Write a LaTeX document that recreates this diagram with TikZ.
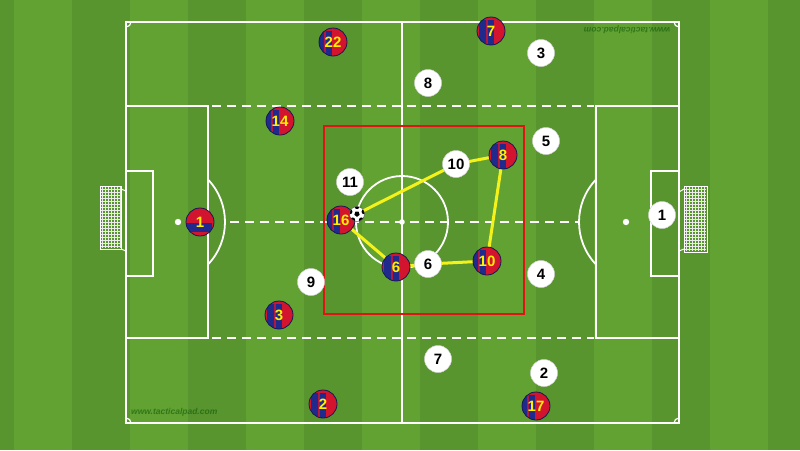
\documentclass[tikz,border=0pt]{standalone}
\usepackage{fontspec}
\setmainfont{Liberation Sans}
\pgfdeclarelayer{pitch}
\pgfdeclarelayer{links}
\pgfsetlayers{pitch,links,main}
\definecolor{grassL}{HTML}{62A233}
\definecolor{grassD}{HTML}{58952E}
\definecolor{bblue}{HTML}{1F2A8C}
\definecolor{bred}{HTML}{D3142E}
\definecolor{byel}{HTML}{FFF000}
\definecolor{lnk}{HTML}{F4F21A}
\definecolor{boxred}{HTML}{E01414}
\newcommand\plnum{\fontsize{15}{15}\selectfont\bfseries}
\begin{document}
\begin{tikzpicture}[x=1pt,y=-1pt,
  pline/.style={draw=white, line width=1.8pt},
  dline/.style={pline, dash pattern=on 9pt off 6pt},
  netline/.style={draw=white!85!gray, line width=0.35pt},
  rb/.style={circle, minimum size=28pt, inner sep=0pt, fill=bred, draw=bblue!60!black, line width=0.8pt,
    text=byel, font=\plnum,
    path picture={
      \fill[bblue, shift={(path picture bounding box.center)}] (-7.5,-16) rectangle (7.5,16);
      \fill[bred!80!bblue, shift={(path picture bounding box.center)}] (-1,-16) rectangle (1,16);
    }},
  gk/.style={circle, minimum size=28pt, inner sep=0pt, fill=bred, draw=bblue!60!black, line width=0.8pt,
    text=byel, font=\plnum,
    path picture={
      \fill[bblue, shift={(path picture bounding box.center)}] (-16,-4.5) rectangle (16,4.5);
    }},
  wp/.style={circle, minimum size=27pt, inner sep=0pt, fill=white, draw=gray!35, line width=0.5pt,
    text=black, font=\plnum},
  ball/.style={circle, minimum size=15pt, inner sep=0pt, fill=white, draw=black!70, line width=0.4pt,
    path picture={
      \fill[black, shift={(path picture bounding box.center)}] (90:2.8) -- (162:2.8) -- (234:2.8) -- (306:2.8) -- (18:2.8) -- cycle;
      \foreach \a in {54,126,198,270,342}
        \fill[black, shift={(path picture bounding box.center)}] (\a:7.5) circle[radius=2.6];
    }},
  link/.style={draw=lnk, line width=3pt, line cap=round, line join=round},
  wmark/.style={font=\fontsize{8.5}{9}\selectfont\bfseries\itshape, text=black!70!green, opacity=0.5, inner sep=0pt}
]
\useasboundingbox (0,0) rectangle (800,450);
\begin{pgfonlayer}{pitch}
  % grass
  \fill[grassL] (0,0) rectangle (800,450);
  \foreach \k in {-1,...,6}
    \fill[grassD] ({72+116*\k},0) rectangle ++(58,450);
  % outer lines
  \draw[pline] (126,22) rectangle (679,423);
  \draw[pline] (402,22) -- (402,423);
  % corner arcs
  \draw[white, line width=1.2pt] (126,27) arc[start angle=90, end angle=0, radius=5];
  \draw[white, line width=1.2pt] (674,22) arc[start angle=180, end angle=90, radius=5];
  \draw[white, line width=1.2pt] (131,423) arc[start angle=0, end angle=-90, radius=5];
  \draw[white, line width=1.2pt] (679,418) arc[start angle=-90, end angle=-180, radius=5];
  % left boxes
  \draw[pline] (126,106) -- (208,106) -- (208,338) -- (126,338);
  \draw[pline] (126,171) -- (153,171) -- (153,276) -- (126,276);
  \draw[pline] ([shift={(163.4,222)}]-43.6:61.6) arc[start angle=-43.6, end angle=43.6, radius=61.6];
  % right boxes
  \draw[pline] (679,106) -- (596,106) -- (596,338) -- (679,338);
  \draw[pline] (679,171) -- (651,171) -- (651,276) -- (679,276);
  \draw[pline] ([shift={(640.6,222)}]136.4:61.6) arc[start angle=136.4, end angle=223.6, radius=61.6];
  % dashed lines
  \draw[dline] (212,106) -- (594,106);
  \draw[dline] (212,338) -- (594,338);
  \draw[dline] (230,222) -- (578,222);
  % centre circle and spots
  \draw[pline] (402,222) circle[radius=46];
  \fill[white] (402,222) circle[radius=2.8];
  \fill[white] (178,222) circle[radius=3.2];
  \fill[white] (626,222) circle[radius=3.2];
  % left net
  \foreach \y in {189,192,...,246} \draw[netline] (101,\y) -- (120,\y);
  \foreach \x in {102,105,...,120} \draw[netline] (\x,187) -- (\x,248);
  \draw[white, line width=1pt] (100,186) rectangle (121,249);
  \draw[white, line width=1pt] (121,189) -- (126,191);
  \draw[white, line width=1pt] (121,249) -- (126,251);
  % right net
  \foreach \y in {189,192,...,249} \draw[netline] (685,\y) -- (706,\y);
  \foreach \x in {686,689,...,706} \draw[netline] (\x,187) -- (\x,251);
  \draw[white, line width=1pt] (684,186) rectangle (707,252);
  \draw[white, line width=1pt] (679,192) -- (684,189);
  \draw[white, line width=1pt] (679,251) -- (684,249);
  % highlighted zone
  \draw[boxred, line width=2pt] (324,126) rectangle (524,314);
\end{pgfonlayer}

% red/blue team
\node[rb] (r22) at (333,42) {22};
\node[rb] (r7)  at (491,31) {7};
\node[rb] (r14) at (280,121) {14};
\node[rb] (r8)  at (503,155) {8};
\node[gk] (r1)  at (200,222) {1};
\node[rb] (r16) at (341,220) {16};
\node[rb] (r6)  at (396,267) {6};
\node[rb] (r10) at (487,261) {10};
\node[rb] (r3)  at (279,315) {3};
\node[rb] (r2)  at (323,404) {2};
\node[rb] (r17) at (536,406) {17};

% white team
\node[wp] (w3)  at (541,53) {3};
\node[wp] (w8)  at (428,83) {8};
\node[wp] (w5)  at (546,141) {5};
\node[wp] (w10) at (456,164) {10};
\node[wp] (w11) at (350,182) {11};
\node[wp] (w1)  at (662,215) {1};
\node[wp] (w6)  at (428,264) {6};
\node[wp] (w4)  at (541,274) {4};
\node[wp] (w9)  at (311,282) {9};
\node[wp] (w7)  at (438,359) {7};
\node[wp] (w2)  at (544,373) {2};

% ball
\node[ball] (ball) at (357,214) {};

% passing lines
\begin{pgfonlayer}{links}
  \draw[link] (ball.center) -- (w10.center) -- (r8.center) -- (r10.center) -- (w6.center) -- (r6.center) -- (r16.center);
\end{pgfonlayer}

% watermarks
\node[wmark, anchor=west] (wm1) at (131,412) {www.tacticalpad.com};
\node[wmark, rotate=180] (wm2) at (627,30) {www.tacticalpad.com};
\end{tikzpicture}
\end{document}
